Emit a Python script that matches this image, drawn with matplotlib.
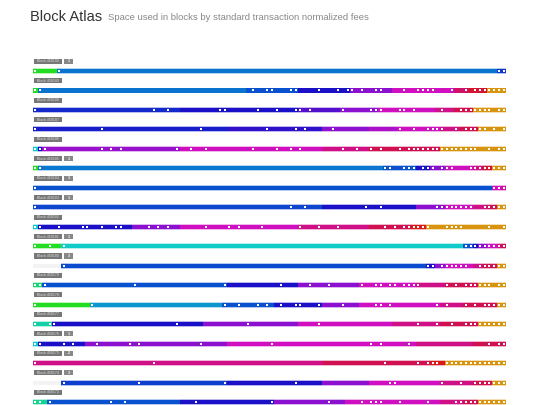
import matplotlib
matplotlib.use("Agg")
from matplotlib import pyplot as plt
from matplotlib.colors import LinearSegmentedColormap

plt.rcParams['font.family'] = ['Liberation Sans', 'DejaVu Sans']

# fee level palette, low (0) to high (10)
fee_colors = ['#22dd22', '#10cccc', '#0a80d0', '#0a50d0', '#1a10c8', '#8a10d0',
              '#d010c0', '#d01088', '#d01050', '#d81818', '#d8940f']
fee_cmap = LinearSegmentedColormap.from_list('fees', fee_colors)

blocks = ['Block 450190', 'Block 450189', 'Block 450188', 'Block 450187', 'Block 450186',
          'Block 450185', 'Block 450184', 'Block 450183', 'Block 450182', 'Block 450181',
          'Block 450180', 'Block 450179', 'Block 450178', 'Block 450177', 'Block 450176',
          'Block 450175', 'Block 450174', 'Block 450173']
badges = {0: '1', 5: '1', 6: '1', 7: '1', 9: '1', 10: '3', 14: '1', 15: '2', 16: '3'}

# (start percent of block, fee level); None = unused space
segments = [
    [(0, 0), (5, 2.3), (98, 3.4)],
    [(0, 0), (1, 2.3), (45, 3), (56, 4), (67, 5), (76, 6), (89, 7.5), (92, 8.5), (96, 10)],
    [(0, 3.6), (31, 4), (56, 4.5), (65, 5), (73, 6), (85, 7), (89, 8), (93, 10)],
    [(0, 3.8), (41, 4.2), (61, 5), (71, 5.5), (77, 6), (86, 7), (90, 8), (94, 10)],
    [(0, 1), (1, 4), (2, 5.2), (31, 6), (61, 7), (71, 8), (86, 10)],
    [(0, 0), (1, 2.2), (74, 3), (81, 4), (84, 5), (87, 6), (93, 7), (95, 8.5), (97, 10)],
    [(0, 3), (97, 6), (99, 6.6)],
    [(0, 3.2), (61, 4), (81, 5), (87, 6), (93, 7), (96, 8), (98, 10)],
    [(0, 1), (1, 4), (21, 5), (31, 6), (56, 7), (71, 8), (80, 9), (83, 10)],
    [(0, 0), (6, 1), (91, 3), (93, 4), (94, 5), (96, 6), (98, 7), (99, 8)],
    [(0, None), (6, 3.1), (83, 4), (85, 5), (87, 6), (93, 7), (95, 8), (98, 10)],
    [(0, 0.5), (2, 3), (41, 4), (56, 5), (69, 6), (81, 7), (87, 8), (94, 10)],
    [(0, 0), (12, 1.7), (40, 3), (51, 4), (61, 5), (69, 6), (86, 7), (91, 8), (98, 10)],
    [(0, 0.8), (4, 4), (36, 5), (56, 6), (76, 7), (86, 8), (94, 10)],
    [(0, 1), (1, 4), (11, 5), (41, 6), (81, 7), (93, 8)],
    [(0, 7), (61, 8), (84, 9), (87, 10)],
    [(0, None), (6, 3.3), (41, 4), (61, 5), (71, 6), (86, 7), (93, 8), (97, 10)],
    [(0, 0.7), (3, 3), (31, 4), (51, 5), (66, 6), (86, 7), (91, 8), (94, 10)],
]

# percent bins marked with a dot
dots = [
    [0, 5, 98, 99],
    [0, 1, 46, 49, 50, 54, 55, 60, 64, 66, 67, 69, 72, 73, 78, 81, 82, 83, 84, 88, 91, 93, 94, 95, 96, 97, 98, 99],
    [0, 25, 28, 39, 40, 47, 51, 55, 56, 58, 65, 71, 72, 73, 77, 78, 80, 86, 90, 91, 92, 93, 94, 95, 96, 98, 99],
    [0, 14, 35, 49, 55, 57, 63, 77, 80, 83, 84, 85, 86, 89, 91, 92, 93, 94, 95, 97, 99],
    [0, 1, 2, 14, 16, 18, 30, 33, 36, 46, 51, 54, 56, 65, 68, 71, 73, 77, 79, 80, 81, 82, 83, 84, 85, 86, 87,
     88, 89, 90, 91, 92, 93, 96, 98, 99],
    [0, 1, 74, 75, 78, 79, 80, 82, 83, 84, 86, 87, 88, 92, 93, 94, 95, 96, 97, 98, 99],
    [0, 97, 98, 99],
    [0, 54, 57, 70, 73, 85, 86, 87, 88, 89, 90, 91, 92, 95, 96, 97, 98, 99],
    [0, 1, 5, 10, 11, 14, 17, 18, 24, 26, 28, 36, 41, 43, 48, 56, 60, 64, 74, 76, 78, 79, 80, 81, 82, 83,
     87, 88, 89, 90, 96, 99],
    [0, 3, 6, 91, 92, 93, 94, 95, 96, 97, 98, 99],
    [6, 83, 84, 86, 87, 88, 89, 90, 91, 94, 95, 96, 97, 98, 99],
    [0, 1, 2, 21, 40, 52, 58, 62, 69, 72, 73, 75, 76, 78, 79, 80, 81, 87, 89, 91, 92, 93, 94, 95, 96, 98, 99],
    [0, 12, 40, 43, 47, 49, 52, 55, 56, 60, 65, 72, 73, 75, 85, 87, 91, 93, 95, 96, 97, 98, 99],
    [0, 3, 4, 30, 45, 60, 81, 85, 88, 91, 92, 93, 94, 95, 96, 97, 98, 99],
    [0, 1, 6, 8, 13, 20, 22, 35, 50, 71, 73, 79, 96, 98, 99],
    [0, 25, 74, 81, 83, 84, 85, 87, 88, 89, 90, 91, 92, 93, 94, 95, 96, 97, 98, 99],
    [6, 22, 40, 55, 75, 76, 86, 90, 93, 94, 95, 96, 97, 98, 99],
    [0, 1, 3, 16, 19, 34, 50, 62, 69, 71, 72, 73, 77, 83, 89, 90, 91, 92, 93, 94, 95, 96, 97, 98, 99],
]


def seg_color(level):
    if level is None:
        return '#f3f3f3'
    return fee_cmap(level / 10)


fig = plt.figure(figsize=(5.4, 4.05), dpi=100)
ax = fig.add_axes([33 / 540, 0, 473 / 540, 355 / 405])
ax.set_xlim(0, 100)
ax.set_ylim(17.15, -1.078)
ax.axis('off')

for row, segs in enumerate(segments):
    for k, (start, level) in enumerate(segs):
        end = segs[k + 1][0] if k + 1 < len(segs) else 100
        col = seg_color(level)
        if level is not None:
            ax.barh(row, end - start, left=start, height=0.3, color=col, alpha=0.3, linewidth=0)
        ax.barh(row, end - start, left=start, height=0.21, color=col, linewidth=0)
    xs = [b + 0.5 for b in dots[row]]
    ax.scatter(xs, [row] * len(xs), s=2.6, marker='s', color='white', linewidths=0, zorder=3)

    # block label tag
    ax.barh(row - 0.5, 6.0, left=0.2, height=0.26, color='#777777', linewidth=0)
    ax.text(3.2, row - 0.5, blocks[row], fontsize=2.6, color='#dddddd', ha='center', va='center')
    if row in badges:
        ax.barh(row - 0.5, 1.9, left=6.6, height=0.26, color='#888888', linewidth=0)
        ax.text(7.55, row - 0.5, badges[row], fontsize=2.6, color='white', ha='center', va='center',
                fontweight='bold')

fig.text(30 / 540, 1 - 17 / 405, 'Block Atlas', fontsize=10.5, color='#333333', va='center')
fig.text(108 / 540, 1 - 18 / 405, 'Space used in blocks by standard transaction normalized fees',
         fontsize=6.8, color='#888888', va='center')

fig.savefig('out.png', dpi=100)
